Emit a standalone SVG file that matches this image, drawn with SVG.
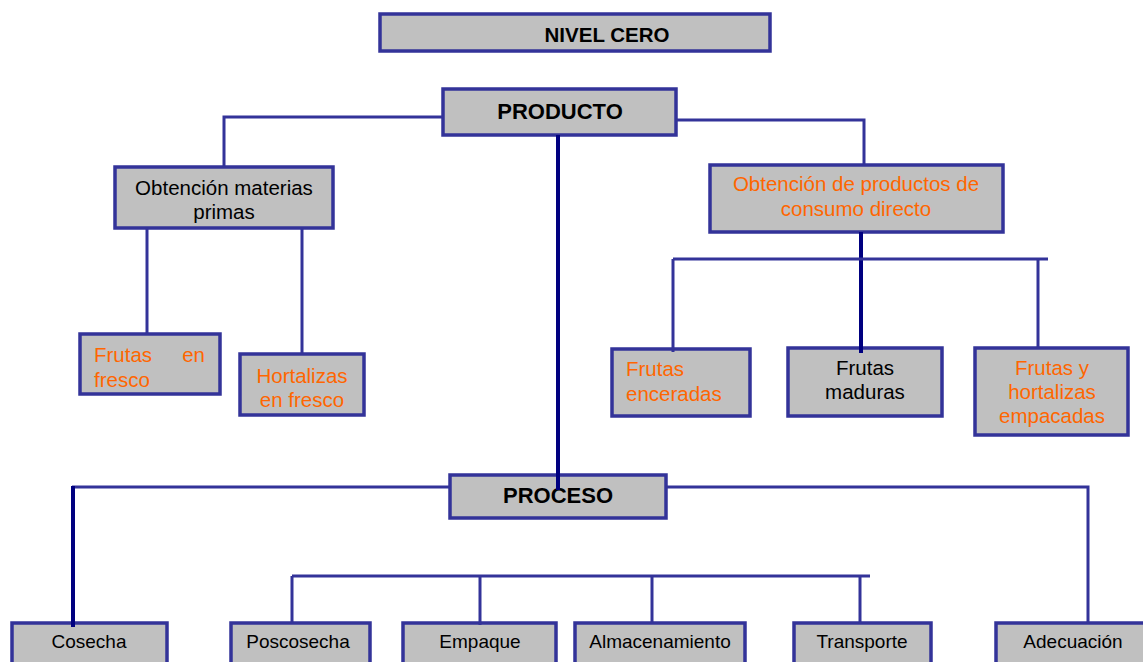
<svg xmlns="http://www.w3.org/2000/svg" width="1143" height="662" viewBox="0 0 1143 662">
<style>
.box{fill:#C0C0C0;stroke:#333399;stroke-width:3.5}
.ln{fill:none;stroke:#333399;stroke-width:3}
.dk{fill:none;stroke:#000080;stroke-width:4}
text{font-family:"Liberation Sans",Arial,sans-serif}
.t{font-size:20.5px;fill:#000}
.o{font-size:20.5px;fill:#FF6600}
.b{font-size:22px;font-weight:bold;fill:#000}
.s{font-size:19px;fill:#000}
.m{text-anchor:middle}
</style>
<rect width="1143" height="662" fill="#fff"/>
<g id="nivel-cero"><rect class="box" x="380" y="14" width="390" height="37"/><text class="b" x="607" y="42" text-anchor="middle" style="font-size:20.5px">NIVEL CERO</text></g>
<g id="producto"><rect class="box" x="443" y="89" width="233" height="46"/><text class="b m" x="560" y="119">PRODUCTO</text></g>
<g id="materias-primas"><rect class="box" x="115" y="167" width="218" height="61"/><text class="t m" x="224" y="195">Obtención materias</text><text class="t m" x="224" y="219">primas</text></g>
<g id="frutas-fresco"><rect class="box" x="80" y="334" width="140" height="60"/><text class="o" x="94" y="362">Frutas</text><text class="o" x="205" y="362" text-anchor="end">en</text><text class="o" x="94" y="387">fresco</text></g>
<g id="hortalizas-fresco"><rect class="box" x="240" y="354" width="124" height="61"/><text class="o m" x="302" y="383">Hortalizas</text><text class="o m" x="302" y="407">en fresco</text></g>
<g id="consumo-directo"><rect class="box" x="710" y="165" width="293" height="67"/><text class="o m" x="856" y="191">Obtención de productos de</text><text class="o m" x="856" y="216">consumo directo</text></g>
<g id="frutas-enceradas"><rect class="box" x="612" y="349" width="138" height="67"/><text class="o" x="626" y="376">Frutas</text><text class="o" x="626" y="401">enceradas</text></g>
<g id="frutas-maduras"><rect class="box" x="788" y="348" width="154" height="68"/><text class="t m" x="865" y="375">Frutas</text><text class="t m" x="865" y="399">maduras</text></g>
<g id="frutas-hortalizas-empacadas"><rect class="box" x="975" y="348" width="153" height="87"/><text class="o m" x="1052" y="375">Frutas y</text><text class="o m" x="1052" y="399">hortalizas</text><text class="o m" x="1052" y="423">empacadas</text></g>
<g id="proceso"><rect class="box" x="450" y="475" width="216" height="43"/><text class="b m" x="558" y="503">PROCESO</text></g>
<g id="cosecha"><rect class="box" x="12" y="623" width="155" height="50"/><text class="s m" x="89" y="648">Cosecha</text></g>
<g id="poscosecha"><rect class="box" x="231" y="623" width="139" height="50"/><text class="s m" x="298" y="648">Poscosecha</text></g>
<g id="empaque"><rect class="box" x="403" y="623" width="153" height="50"/><text class="s m" x="480" y="648">Empaque</text></g>
<g id="almacenamiento"><rect class="box" x="575" y="623" width="170" height="50"/><text class="s m" x="660" y="648">Almacenamiento</text></g>
<g id="transporte"><rect class="box" x="794" y="623" width="137" height="50"/><text class="s m" x="862" y="648">Transporte</text></g>
<g id="adecuacion"><rect class="box" x="996" y="623" width="170" height="50"/><text class="s m" x="1073" y="648">Adecuación</text></g>
<g id="connectors">
<polyline class="ln" points="443,117 224,117 224,167"/>
<polyline class="ln" points="676,120 864,120 864,165"/>
<line class="dk" x1="558" y1="135" x2="558" y2="490"/>
<line class="ln" x1="147" y1="229" x2="147" y2="334"/>
<line class="ln" x1="302" y1="229" x2="302" y2="354"/>
<line class="dk" x1="861" y1="232" x2="861" y2="353"/>
<line class="ln" x1="673" y1="259" x2="1048" y2="259"/>
<line class="ln" x1="673" y1="259" x2="673" y2="352"/>
<line class="ln" x1="1038" y1="259" x2="1038" y2="348"/>
<line class="ln" x1="450" y1="487" x2="72" y2="487"/>
<line class="dk" x1="73" y1="486" x2="73" y2="627"/>
<polyline class="ln" points="666,487 1088,487 1088,623"/>
<line class="ln" x1="292" y1="576" x2="870" y2="576"/>
<line class="ln" x1="292" y1="576" x2="292" y2="623"/>
<line class="ln" x1="480" y1="576" x2="480" y2="625"/>
<line class="ln" x1="652" y1="576" x2="652" y2="623"/>
<line class="ln" x1="860" y1="576" x2="860" y2="623"/>
</g>
</svg>
